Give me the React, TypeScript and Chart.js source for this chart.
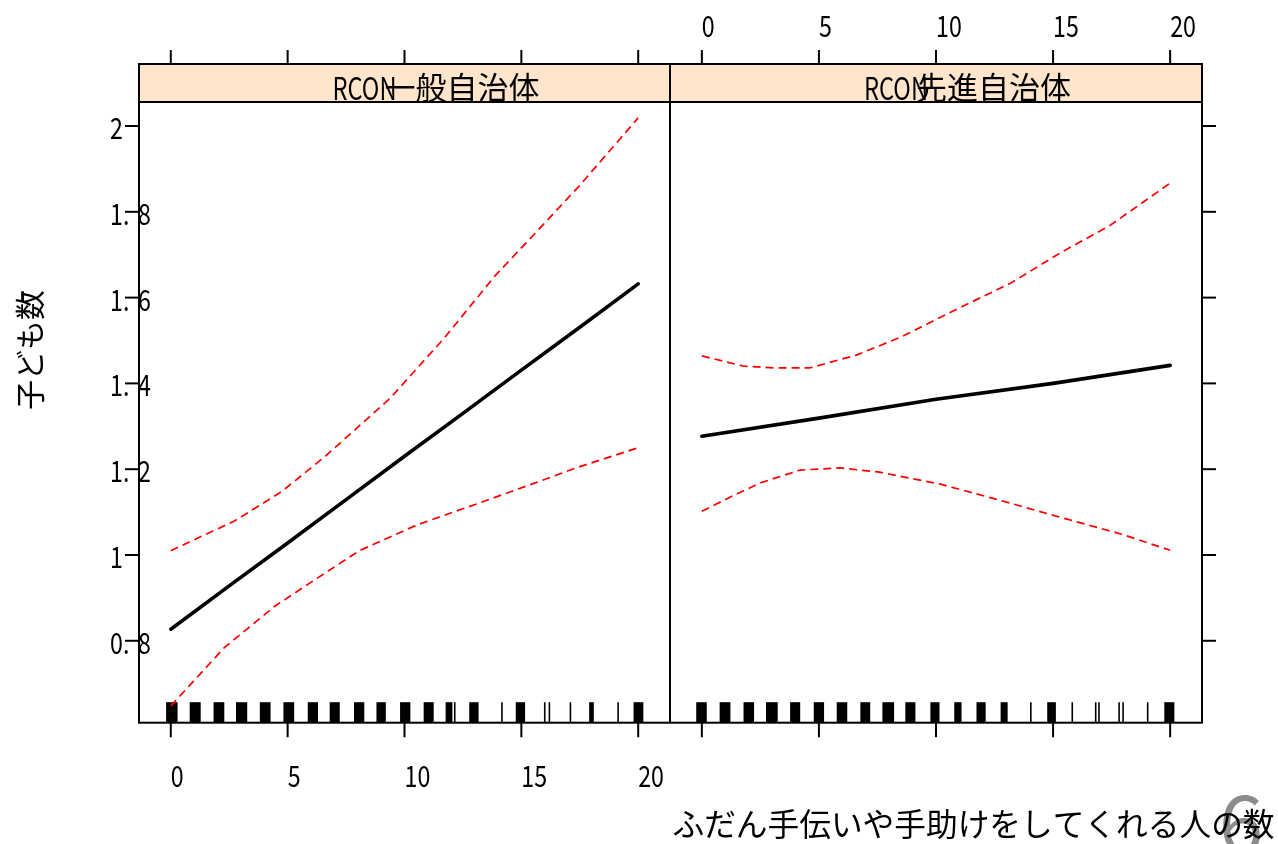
import React, { useEffect, useRef } from "react";
import { Chart, registerables } from "chart.js";
Chart.register(...registerables);

// ---------- data ----------
const xTicks = [0, 5, 10, 15, 20];
const xTickLabels = ["0", "5", "10", "15", "20"];
const yTicks = [0.8, 1, 1.2, 1.4, 1.6, 1.8, 2];
const yTickLabels = ["0.8", "1", "1.2", "1.4", "1.6", "1.8", "2"];
const panelLabels = ["RCON一般自治体", "RCON先進自治体"];
const yTitle = "子ども数";
const xTitle = "ふだん手伝いや手助けをしてくれる人の数";
const pageNumber = "6";

// left panel (一般自治体)
const fitLeftX = [0, 2.5, 5, 7.5, 10, 12.5, 15, 17.5, 20];
const fitLeftY = [0.827, 0.928, 1.028, 1.129, 1.23, 1.33, 1.431, 1.531, 1.632];
const upperLeftX = [0, 2.72, 4.75, 6.63, 9.38, 11.69, 13.86, 15.59, 17.47, 20];
const upperLeftY = [1.01, 1.079, 1.148, 1.231, 1.365, 1.505, 1.65, 1.75, 1.86, 2.019];
const lowerLeftX = [0, 2.29, 4.46, 6.63, 8.07, 10.53, 13.14, 15.74, 17.33, 20];
const lowerLeftY = [0.648, 0.784, 0.881, 0.959, 1.01, 1.07, 1.12, 1.171, 1.203, 1.25];
const rugLeft = [
  [-0.2, 0.29], [0.81, 1.28], [1.83, 2.29], [2.79, 3.27], [3.81, 4.27], [4.82, 5.28],
  [5.86, 6.3], [6.8, 7.23], [7.84, 8.28], [8.8, 9.2], [9.81, 10.25], [10.82, 11.25],
  [11.76, 12.05], [12.15, 12.15], [12.77, 13.17], [14.17, 14.17], [14.76, 15.16],
  [16.0, 16.0], [16.2, 16.2], [17.1, 17.1], [17.9, 18.1], [19.14, 19.14], [19.8, 20.22],
];

// right panel (先進自治体)
const fitRightX = [0, 5, 10, 15, 20];
const fitRightY = [1.277, 1.319, 1.363, 1.4, 1.442];
const upperRightX = [0, 1.8, 3.1, 4.6, 6.6, 8.5, 11.0, 13.2, 15.3, 17.4, 20];
const upperRightY = [1.464, 1.44, 1.436, 1.436, 1.466, 1.508, 1.576, 1.634, 1.704, 1.767, 1.867];
const lowerRightX = [0, 1.4, 2.5, 4.2, 5.9, 7.6, 10.2, 12.7, 15.3, 17.9, 20];
const lowerRightY = [1.102, 1.14, 1.168, 1.198, 1.203, 1.193, 1.165, 1.128, 1.088, 1.049, 1.011];
const rugRight = [
  [-0.24, 0.21], [0.76, 1.22], [1.78, 2.23], [2.74, 3.24], [3.77, 4.2], [4.78, 5.22],
  [5.76, 6.21], [6.77, 7.19], [7.71, 8.21], [8.69, 9.12], [9.76, 10.15], [10.78, 11.09],
  [11.73, 12.12], [12.76, 13.06], [14.05, 14.05], [14.75, 15.12], [15.82, 15.82],
  [16.82, 16.82], [16.96, 16.96], [17.82, 17.82], [17.99, 17.99], [19.04, 19.04], [19.75, 20.18],
];

// ---------- layout ----------
const W = 1278;
const H = 844;
const X_MIN = -1.36;
const X_MAX = 21.36;
const Y_MIN = 0.609;
const Y_MAX = 2.056;
const STRIP_TOP = 64;
const PLOT_TOP = 102;
const PLOT_BOTTOM = 722.7;
const FONT = '"Noto Sans CJK JP", "Noto Sans", sans-serif';

const pts = (xs: number[], ys: number[]) => xs.map((x, i) => ({ x, y: ys[i] }));

function drawScaled(ctx: CanvasRenderingContext2D, text: string, x: number, y: number, sx: number, align: "left" | "right" | "center") {
  const w = ctx.measureText(text).width * sx;
  const x0 = align === "left" ? x : align === "right" ? x - w : x - w / 2;
  ctx.save();
  ctx.translate(x0, y);
  ctx.scale(sx, 1);
  ctx.textAlign = "left";
  ctx.fillText(text, 0, 0);
  ctx.restore();
}

function drawFit(ctx: CanvasRenderingContext2D, text: string, x: number, y: number, width: number) {
  const m = ctx.measureText(text).width;
  ctx.save();
  ctx.translate(x, y);
  ctx.scale(width / m, 1);
  ctx.textAlign = "left";
  ctx.fillText(text, 0, 0);
  ctx.restore();
}

function makePlugin(panel: number, rug: number[][]) {
  return {
    id: "panel" + panel,
    beforeDatasetsDraw(chart: any) {
      const { ctx, chartArea: a, scales } = chart;
      const x = scales.x;
      ctx.save();
      ctx.fillStyle = "#000";
      ctx.strokeStyle = "#000";
      const top = a.bottom - 20.5;
      rug.forEach(([s, e]) => {
        const p0 = x.getPixelForValue(s);
        const p1 = x.getPixelForValue(e);
        if (e - s < 0.05) {
          ctx.lineWidth = 1.6;
          ctx.beginPath();
          ctx.moveTo(p0, top);
          ctx.lineTo(p0, a.bottom);
          ctx.stroke();
        } else {
          ctx.fillRect(p0, top, p1 - p0, a.bottom - top);
        }
      });
      ctx.restore();
    },
    afterDraw(chart: any) {
      const { ctx, chartArea: a, scales } = chart;
      const x = scales.x;
      const y = scales.y;
      const w = a.right - a.left;
      ctx.save();
      // strip
      ctx.fillStyle = "#ffe5cc";
      ctx.fillRect(a.left, STRIP_TOP, w, a.top - STRIP_TOP);
      ctx.strokeStyle = "#000";
      ctx.lineWidth = 2;
      ctx.strokeRect(a.left, STRIP_TOP, w, a.top - STRIP_TOP);
      ctx.strokeRect(a.left, a.top, w, a.bottom - a.top);

      // strip text
      const label = panelLabels[panel];
      const cx = (a.left + a.right) / 2;
      ctx.fillStyle = "#000";
      ctx.textBaseline = "alphabetic";
      ctx.font = `31px ${FONT}`;
      drawFit(ctx, label.slice(0, 4), cx - 72, 99.5, 64);
      ctx.textAlign = "right";
      ctx.fillText(label.slice(4), cx + 135, 99);

      // x ticks top & bottom
      ctx.lineWidth = 2;
      xTicks.forEach((v) => {
        const px = x.getPixelForValue(v);
        ctx.beginPath();
        ctx.moveTo(px, STRIP_TOP);
        ctx.lineTo(px, 50);
        ctx.moveTo(px, a.bottom);
        ctx.lineTo(px, a.bottom + 14.6);
        ctx.stroke();
      });
      // y ticks
      yTicks.forEach((v) => {
        const py = y.getPixelForValue(v);
        ctx.beginPath();
        if (panel === 0) {
          ctx.moveTo(a.left - 14, py);
          ctx.lineTo(a.left, py);
        } else {
          ctx.moveTo(a.right, py);
          ctx.lineTo(a.right + 14, py);
        }
        ctx.stroke();
      });

      ctx.font = `29px ${FONT}`;
      const sx = 0.8;
      if (panel === 0) {
        // bottom labels
        xTicks.forEach((v, i) => {
          const px = x.getPixelForValue(v);
          drawScaled(ctx, xTickLabels[i], px, 787, sx, "left");
        });
        // y labels
        yTicks.forEach((v, i) => {
          const py = y.getPixelForValue(v) + 13;
          const s = yTickLabels[i];
          const dot = s.indexOf(".");
          if (dot < 0) {
            drawScaled(ctx, s, 110, py, sx, "left");
          } else {
            drawScaled(ctx, s.slice(0, dot + 1), 110, py, sx, "left");
            drawScaled(ctx, s.slice(dot + 1), 138, py, sx, "left");
          }
        });
        // y title
        ctx.save();
        ctx.font = `30px ${FONT}`;
        ctx.translate(30, 350);
        ctx.rotate(-Math.PI / 2);
        ctx.textAlign = "center";
        ctx.textBaseline = "middle";
        ctx.fillText(yTitle, 0, 0);
        ctx.restore();
        // page number (grey)
        ctx.save();
        ctx.font = `80px ${FONT}`;
        ctx.fillStyle = "#8c8c8c";
        ctx.textAlign = "left";
        ctx.fillText(pageNumber, 1219, 853);
        ctx.restore();
        // x title
        ctx.font = `31.7px ${FONT}`;
        ctx.fillStyle = "#000";
        ctx.textAlign = "center";
        ctx.fillText(xTitle, 973.5, 836);
      } else {
        // top labels
        xTicks.forEach((v, i) => {
          const px = x.getPixelForValue(v);
          drawScaled(ctx, xTickLabels[i], px, 37, sx, "left");
        });
      }
      ctx.restore();
    },
  };
}

function buildConfig(panel: number) {
  const left = panel === 0;
  const fit = left ? pts(fitLeftX, fitLeftY) : pts(fitRightX, fitRightY);
  const up = left ? pts(upperLeftX, upperLeftY) : pts(upperRightX, upperRightY);
  const lo = left ? pts(lowerLeftX, lowerLeftY) : pts(lowerRightX, lowerRightY);
  const dashed = {
    borderColor: "#ff0000",
    borderWidth: 1.7,
    borderDash: [8, 5],
    pointRadius: 0,
    showLine: true,
    fill: false,
    tension: 0,
  };
  return {
    type: "scatter" as const,
    data: {
      datasets: [
        { ...dashed, data: up },
        { ...dashed, data: lo },
        {
          data: fit,
          borderColor: "#000",
          borderWidth: 3.6,
          pointRadius: 0,
          showLine: true,
          fill: false,
          tension: 0,
          borderCapStyle: "round",
        },
      ],
    },
    options: {
      responsive: false,
      animation: false,
      devicePixelRatio: 1,
      events: [],
      layout: {
        padding: left
          ? { left: 139, right: W - 670, top: PLOT_TOP, bottom: H - PLOT_BOTTOM }
          : { left: 670, right: W - 1202, top: PLOT_TOP, bottom: H - PLOT_BOTTOM },
      },
      plugins: { legend: { display: false }, tooltip: { enabled: false } },
      scales: {
        x: { type: "linear", min: X_MIN, max: X_MAX, display: false },
        y: { type: "linear", min: Y_MIN, max: Y_MAX, display: false },
      },
    },
    plugins: [makePlugin(panel, left ? rugLeft : rugRight)],
  };
}

export default function App() {
  const ref1 = useRef<HTMLCanvasElement>(null);
  const ref2 = useRef<HTMLCanvasElement>(null);
  useEffect(() => {
    const c1 = new Chart(ref1.current as HTMLCanvasElement, buildConfig(0) as any);
    const c2 = new Chart(ref2.current as HTMLCanvasElement, buildConfig(1) as any);
    return () => {
      c1.destroy();
      c2.destroy();
    };
  }, []);
  const cs: React.CSSProperties = { position: "absolute", left: 0, top: 0, width: W, height: H };
  return (
    <div style={{ position: "absolute", left: 0, top: 0, width: W, height: H, background: "#fff", overflow: "hidden" }}>
      <canvas ref={ref1} width={W} height={H} style={cs} />
      <canvas ref={ref2} width={W} height={H} style={cs} />
    </div>
  );
}
